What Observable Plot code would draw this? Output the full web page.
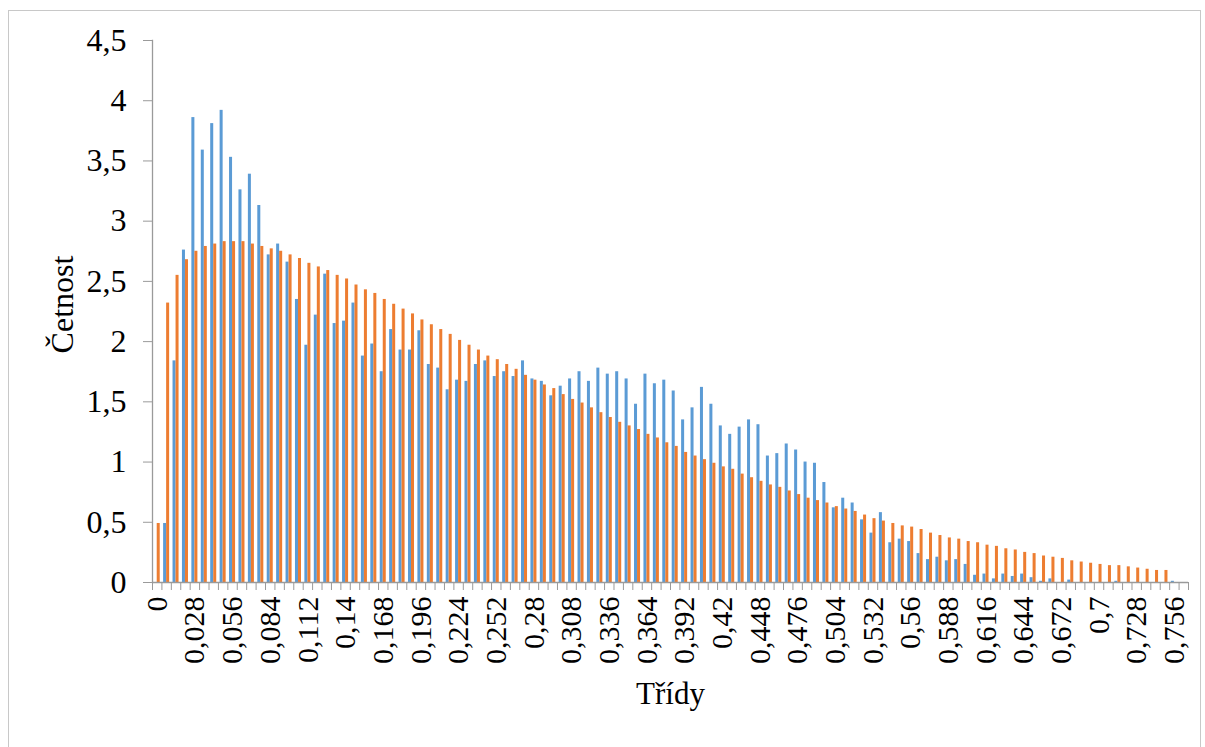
<!DOCTYPE html>
<html><head><meta charset="utf-8">
<script src="https://cdn.jsdelivr.net/npm/d3@7"></script>
<script src="https://cdn.jsdelivr.net/npm/@observablehq/plot@0.6"></script>
<style>
body{margin:0;background:#fff;}
#wrap{position:relative;width:1205px;height:747px;overflow:hidden;}
#border{position:absolute;left:8px;top:10px;width:1191px;height:745px;border:1px solid #c8c8c8;pointer-events:none;}
</style></head><body><div id="wrap"><div id="border"></div></div>
<script>
// Třídy (class midpoints)
const classes = [0,0.007,0.014,0.021,0.028,0.035,0.042,0.049,0.056,0.063,0.07,0.077,0.084,0.091,0.098,0.105,0.112,0.119,0.126,0.133,0.14,0.147,0.154,0.161,0.168,0.175,0.182,0.189,0.196,0.203,0.21,0.217,0.224,0.231,0.238,0.245,0.252,0.259,0.266,0.273,0.28,0.287,0.294,0.301,0.308,0.315,0.322,0.329,0.336,0.343,0.35,0.357,0.364,0.371,0.378,0.385,0.392,0.399,0.406,0.413,0.42,0.427,0.434,0.441,0.448,0.455,0.462,0.469,0.476,0.483,0.49,0.497,0.504,0.511,0.518,0.525,0.532,0.539,0.546,0.553,0.56,0.567,0.574,0.581,0.588,0.595,0.602,0.609,0.616,0.623,0.63,0.637,0.644,0.651,0.658,0.665,0.672,0.679,0.686,0.693,0.7,0.707,0.714,0.721,0.728,0.735,0.742,0.749,0.756,0.763];
// Četnost - observed (blue)
const observed = [0,0.49,1.84,2.76,3.86,3.59,3.81,3.92,3.53,3.26,3.39,3.13,2.72,2.81,2.66,2.35,1.97,2.22,2.56,2.15,2.17,2.32,1.88,1.98,1.75,2.10,1.93,1.93,2.09,1.81,1.78,1.60,1.68,1.67,1.81,1.84,1.71,1.75,1.71,1.84,1.69,1.67,1.55,1.63,1.69,1.75,1.67,1.78,1.73,1.75,1.69,1.48,1.73,1.65,1.68,1.59,1.35,1.45,1.62,1.48,1.30,1.23,1.29,1.35,1.31,1.05,1.07,1.15,1.10,1.00,0.99,0.83,0.62,0.70,0.66,0.52,0.41,0.58,0.33,0.36,0.34,0.24,0.19,0.21,0.18,0.19,0.15,0.06,0.07,0.03,0.07,0.05,0.07,0.04,0.01,0.03,0,0.02,0,0,0,0,0.01,0,0,0,0,0,0.01,0];
// Četnost - theoretical (orange)
const theoretical = [0.49,2.32,2.55,2.68,2.75,2.79,2.81,2.83,2.83,2.83,2.81,2.79,2.77,2.75,2.72,2.69,2.65,2.62,2.59,2.55,2.52,2.47,2.43,2.40,2.35,2.31,2.27,2.23,2.18,2.14,2.10,2.06,2.01,1.97,1.93,1.88,1.85,1.81,1.77,1.72,1.68,1.64,1.61,1.56,1.52,1.49,1.45,1.41,1.37,1.33,1.30,1.27,1.23,1.20,1.16,1.13,1.08,1.05,1.02,0.99,0.96,0.94,0.90,0.87,0.84,0.81,0.79,0.76,0.73,0.70,0.68,0.66,0.63,0.61,0.59,0.56,0.53,0.51,0.49,0.47,0.46,0.44,0.41,0.39,0.37,0.36,0.34,0.33,0.31,0.30,0.28,0.27,0.25,0.24,0.22,0.21,0.20,0.18,0.17,0.16,0.15,0.14,0.14,0.13,0.12,0.11,0.10,0.10,0,0];
const yTicks = [0,0.5,1,1.5,2,2.5,3,3.5,4,4.5];
const xLabels = [0,0.028,0.056,0.084,0.112,0.14,0.168,0.196,0.224,0.252,0.28,0.308,0.336,0.364,0.392,0.42,0.448,0.476,0.504,0.532,0.56,0.588,0.616,0.644,0.672,0.7,0.728,0.756];
const yTitle = "Četnost";
const xTitle = "Třídy";

const rows = classes.map((c, i) => ({c, observed: observed[i], theoretical: theoretical[i]}));

const W = 1205, H = 747, mL = 152, mR = 17, mT = 40, mB = 165;
const padInner = 0.36;
const step = (W - mL - mR) / classes.length;
const half = step * (1 - padInner) / 2;
const axisColor = "#9a9a9a";
const fmt = v => String(v).replace(".", ",");

const chart = Plot.plot({
  width: W, height: H,
  marginLeft: mL, marginRight: mR, marginTop: mT, marginBottom: mB,
  style: {fontFamily: "'Liberation Serif','Times New Roman',serif", fontSize: "30px", color: "#000", background: "transparent"},
  x: {type: "band", domain: classes, paddingInner: padInner, paddingOuter: padInner / 2, align: 0.5},
  y: {domain: [0, 4.5]},
  marks: [
    Plot.barY(rows, {x: "c", y: "observed", fill: "#5B9BD5", insetRight: half}),
    Plot.barY(rows, {x: "c", y: "theoretical", fill: "#ED7D31", insetLeft: half}),
    Plot.ruleY([0], {stroke: axisColor, strokeWidth: 1.3}),
    Plot.frame({anchor: "left", stroke: axisColor, strokeWidth: 1.3}),
    Plot.axisY({ticks: yTicks, tickFormat: fmt, tickSize: 9, tickPadding: 17, stroke: axisColor, fill: "#000", label: null, fontSize: 32}),
    Plot.axisX({ticks: classes, tickFormat: () => "", tickSize: 8, dx: step / 2, stroke: axisColor, label: null}),
    Plot.axisX({ticks: [classes[0]], tickFormat: () => "", tickSize: 8, dx: -step / 2, stroke: axisColor, label: null}),
    Plot.axisX({ticks: xLabels, tickFormat: fmt, tickSize: 0, tickPadding: 14, tickRotate: -90, fill: "#000", label: null, fontSize: 30}),
    Plot.text([yTitle], {text: d => d, frameAnchor: "left", textAnchor: "middle", dx: -90, dy: -7, rotate: -90, fontSize: 32, fill: "#000"}),
    Plot.text([xTitle], {text: d => d, frameAnchor: "bottom", textAnchor: "middle", dy: 121, fontSize: 31, fill: "#000"})
  ]
});
document.getElementById("wrap").appendChild(chart);
</script>
</body></html>
